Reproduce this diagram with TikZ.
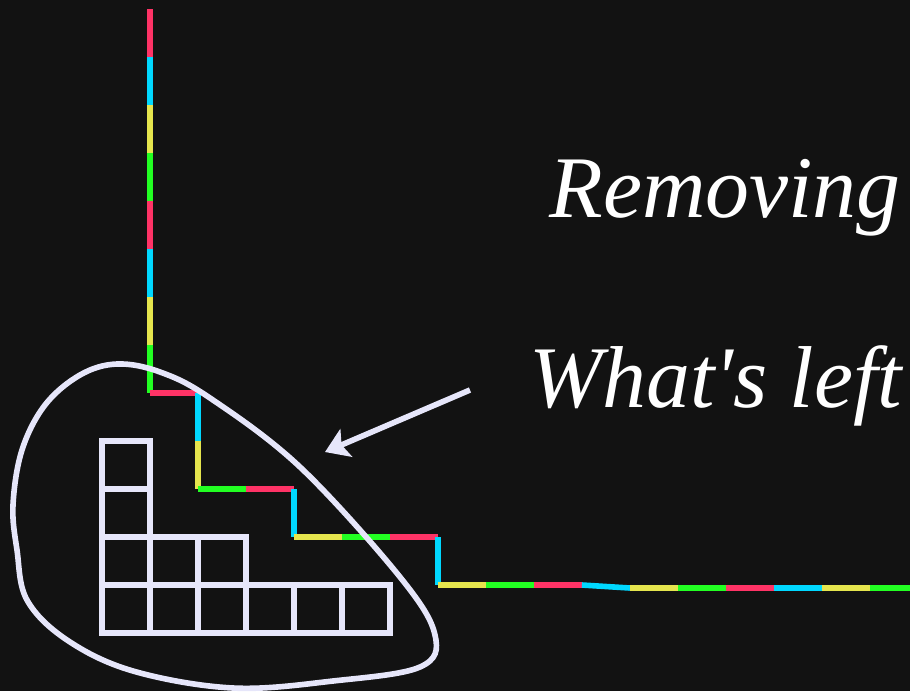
\documentclass[tikz,border=0pt]{standalone}
\usepackage{fontspec}
\setmainfont{Liberation Serif}
\usetikzlibrary{arrows.meta}
\definecolor{fondo}{HTML}{121212}
\definecolor{lila}{HTML}{E6E6FA}
\definecolor{seg0}{HTML}{FF3366}
\definecolor{seg1}{HTML}{00D8FF}
\definecolor{seg2}{HTML}{E5E54D}
\definecolor{seg3}{HTML}{22FF22}

\begin{document}
\begin{tikzpicture}[x=0.02cm,y=-0.02cm,>=Stealth,
  caja/.style={draw=lila,line width=3.2pt},
  tramo/.style={line width=3.2pt},
  lazo/.style={draw=lila,line width=3.2pt},
  rotulo/.style={text=white,font=\fontsize{50}{54}\selectfont\itshape,inner sep=0pt}]
\useasboundingbox[fill=fondo] (0,0) rectangle (910,691);
% diagram and its coloured rim
\begin{scope}[shift={(102,633)},x=0.96cm,y=0.96cm]
\foreach \i in {0,...,5} \draw[caja] (\i,0) rectangle ++(1,1);
\foreach \i in {0,1,2} \draw[caja] (\i,1) rectangle ++(1,1);
\foreach \j in {2,3} \draw[caja] (0,\j) rectangle ++(1,1);
\foreach \j in {0,...,7} {
  \pgfmathtruncatemacro\m{mod(\j,4)}
  \draw[tramo,color=seg\m] (1,13-\j) -- (1,12-\j);
}
\foreach \xa/\ya/\xb/\yb [count=\k from 8] in
  {1/5/2/5, 2/5/2/4, 2/4/2/3, 2/3/3/3, 3/3/4/3, 4/3/4/2, 4/2/5/2, 5/2/6/2, 6/2/7/2, 7/2/7/1} {
  \pgfmathtruncatemacro\m{mod(\k,4)}
  \draw[tramo,color=seg\m] (\xa,\ya) -- (\xb,\yb);
}
\foreach \i in {7,...,16} {
  \pgfmathtruncatemacro\m{mod(\i+11,4)}
  \pgfmathsetmacro\ya{\i>10 ? 0.9375 : 1}
  \pgfmathsetmacro\yb{\i>9 ? 0.9375 : 1}
  \draw[tramo,color=seg\m] (\i,\ya) -- (\i+1,\yb);
}
\end{scope}
% loop round the boxes
\draw[lazo] plot[smooth cycle,tension=0.6] coordinates {(117,364) (160,372) (210,398) (300,467)
  (400,577) (435,635) (420,667) (333,681) (233,688) (133,671) (67,640) (27,600) (17,550)
  (13,505) (22,450) (45,405) (80,375)};
\coordinate (cola) at (470,390);
\coordinate (punta) at (325,452);
\draw[lila,line width=3.2pt,-{Stealth[length=4.6mm,width=6mm,inset=1mm]}] (cola) -- (punta);
\node[rotulo,anchor=base west] (quitar) at (549,217) {Removing};
\node[rotulo,anchor=base west] (resto) at (529,407) {What\textquotesingle s left};
\end{tikzpicture}
\end{document}
